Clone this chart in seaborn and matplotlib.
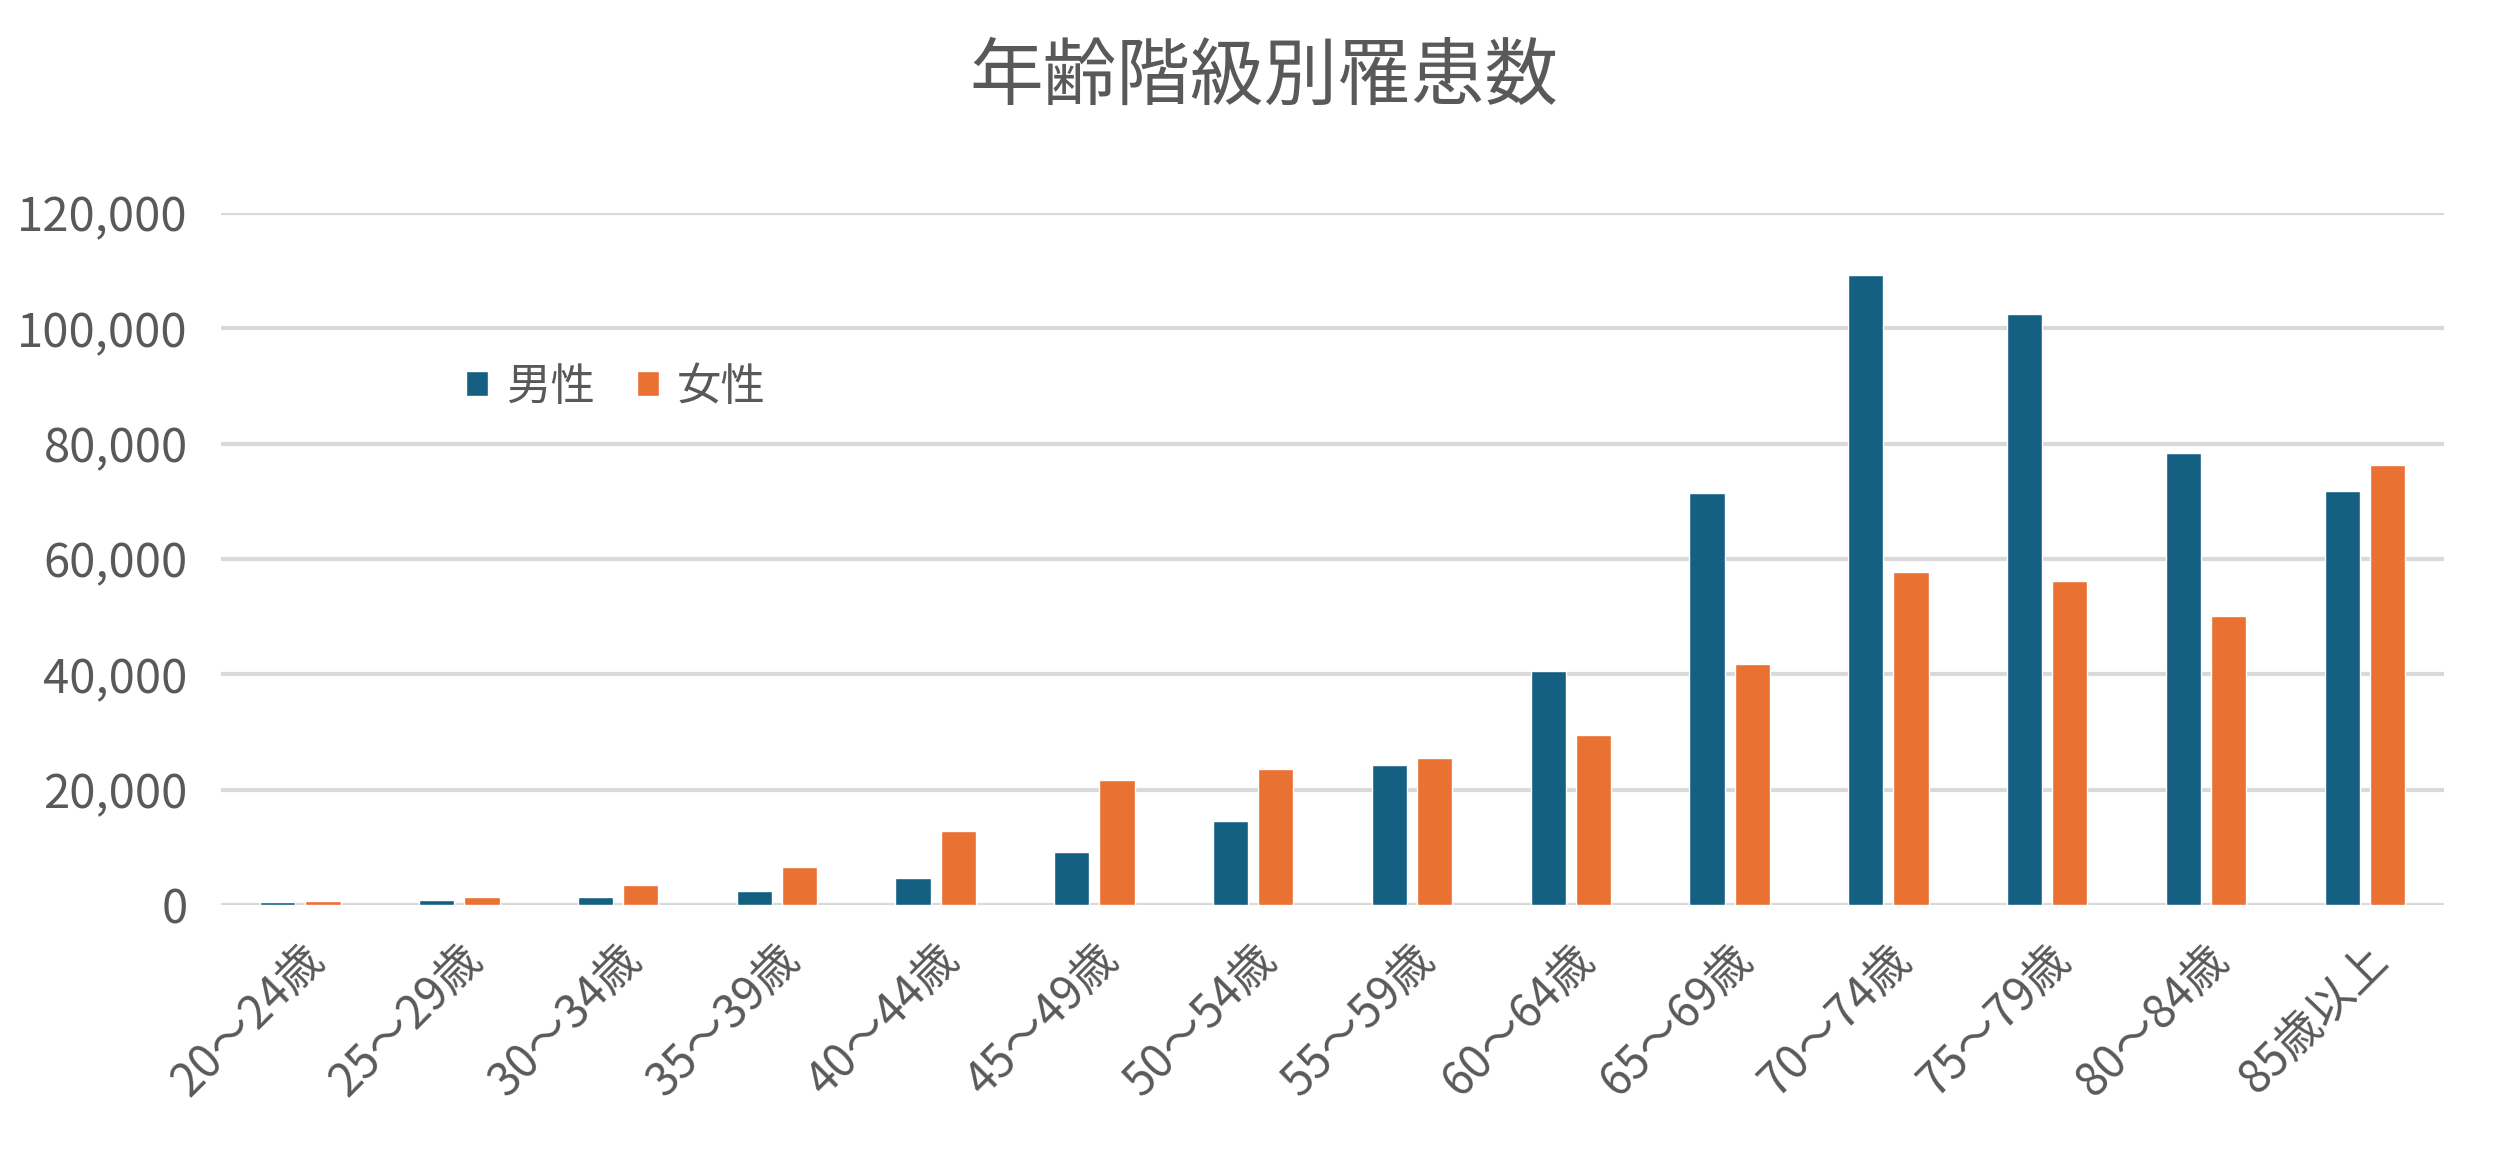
import matplotlib
matplotlib.use("Agg")
import matplotlib.pyplot as plt
import matplotlib.ticker as mticker
import matplotlib.transforms as mtransforms
import seaborn as sns
import pandas as pd

sns.set_theme(style="white")
plt.rcParams['font.family'] = ['Noto Sans CJK JP', 'DejaVu Sans']

age_groups = ['20～24歳', '25～29歳', '30～34歳', '35～39歳', '40～44歳', '45～49歳', '50～54歳',
              '55～59歳', '60～64歳', '65～69歳', '70～74歳', '75～79歳', '80～84歳', '85歳以上']
male = [500, 900, 1400, 2500, 4700, 9200, 14500, 24300, 40600, 71400, 109200, 102500, 78400, 71700]
female = [700, 1400, 3400, 6600, 12900, 21700, 23600, 25500, 29400, 41800, 57800, 56100, 50100, 76300]
sexes = ['男性', '女性']
colors = ['#156082', '#E97132']

df = pd.DataFrame({
    'age': age_groups * 2,
    'sex': [sexes[0]] * len(age_groups) + [sexes[1]] * len(age_groups),
    'count': male + female,
})

text_color = '#595959'
grid_color = '#D9D9D9'

fig = plt.figure(figsize=(25.12, 11.5), dpi=100)
ax = fig.add_axes([0.088, 0.213, 0.885, 0.602])

sns.barplot(data=df, x='age', y='count', hue='sex', hue_order=sexes,
            palette=colors, width=0.57, gap=0.22, saturation=1, ax=ax)

ax.set_ylim(0, 120000)
ax.set_yticks(range(0, 120001, 20000))
ax.yaxis.set_major_formatter(mticker.FuncFormatter(lambda v, p: f"{int(v):,}"))
ax.grid(axis='y', color=grid_color, linewidth=3)
ax.set_axisbelow(True)
for s in ax.spines.values():
    s.set_visible(False)

ax.set_xlabel('')
ax.set_ylabel('')
ax.tick_params(axis='y', length=0, pad=24, labelsize=34, labelcolor=text_color)
ax.tick_params(axis='x', length=0, pad=34, labelsize=33, labelcolor=text_color)
shift = mtransforms.ScaledTranslation(0.16, 0, fig.dpi_scale_trans)
for lab in ax.get_xticklabels():
    lab.set_rotation(45)
    lab.set_ha('right')
    lab.set_va('center')
    lab.set_rotation_mode('anchor')
    lab.set_transform(lab.get_transform() + shift)

leg = ax.legend(loc='upper left', bbox_to_anchor=(0.092, 0.84), ncol=2, frameon=False,
                fontsize=32, handlelength=0.5, handleheight=0.5, handletextpad=0.4,
                columnspacing=0.95, labelcolor=text_color)

fig.suptitle('年齢階級別罹患数', x=0.503, y=0.965, fontsize=53, color=text_color)

fig.savefig('out.png', dpi=100, facecolor='white')
